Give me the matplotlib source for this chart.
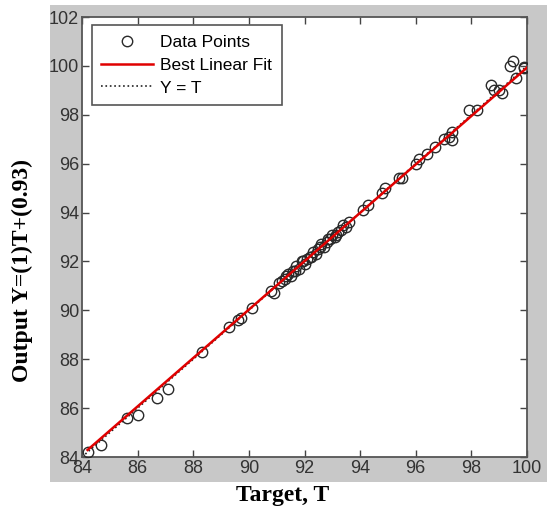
import matplotlib.pyplot as plt
from matplotlib.patches import Rectangle

# ---- data ----
target = [84.2, 84.7, 85.6, 86.0, 86.7, 87.1, 88.3, 89.3, 89.6, 89.7, 90.1,
          90.8, 90.9, 91.1, 91.2, 91.3, 91.4, 91.5, 91.6, 91.7, 91.8, 91.9,
          92.0, 92.1, 92.2, 92.3, 92.4, 92.5, 92.6, 92.7, 92.8, 92.9, 93.0,
          93.1, 93.2, 93.3, 93.5, 93.6, 91.35, 91.65, 91.95, 92.25, 92.55,
          92.85, 93.15, 93.4,
          94.1, 94.3, 94.8, 94.9, 95.4, 95.5,
          96.0, 96.1, 96.4, 96.7, 97.0, 97.2, 97.3, 97.3, 97.9, 98.2, 98.7,
          98.8, 99.0, 99.1, 99.4, 99.5, 99.6, 99.9, 99.9]
output = [84.2, 84.5, 85.6, 85.7, 86.4, 86.8, 88.3, 89.3, 89.6, 89.7, 90.1,
          90.8, 90.7, 91.1, 91.2, 91.3, 91.5, 91.4, 91.6, 91.8, 91.7, 92.0,
          91.9, 92.1, 92.2, 92.4, 92.3, 92.5, 92.7, 92.6, 92.8, 92.9, 93.1,
          93.0, 93.2, 93.3, 93.4, 93.6, 91.4, 91.6, 92.0, 92.2, 92.6,
          92.9, 93.1, 93.5,
          94.1, 94.3, 94.8, 95.0, 95.4, 95.4,
          96.0, 96.2, 96.4, 96.7, 97.0, 97.1, 97.3, 96.95, 98.2, 98.2, 99.2,
          99.0, 99.0, 98.9, 100.0, 100.2, 99.5, 99.95, 99.9]

fit_slope = 0.99
fit_intercept = 0.93
fit_range = [84.2, 100.0]
ident_range = [84, 102]

xticks = list(range(84, 101, 2))
yticks = list(range(84, 103, 2))

plt.rcParams['font.family'] = ['Liberation Sans', 'DejaVu Sans']

fig = plt.figure(figsize=(5.47, 5.15), dpi=100)
fig.patch.set_facecolor('white')
# matlab style grey figure panel, kept behind the axes
fig.patches.append(Rectangle((50 / 547, 1 - 482 / 515), 1 - 50 / 547, (482 - 5) / 515,
                             transform=fig.transFigure, facecolor='#c8c8c8',
                             edgecolor='none', zorder=-10))

ax = fig.add_axes([82 / 547, 1 - 457 / 515, 445 / 547, 440 / 515])
ax.set_zorder(5)
ax.set_facecolor('white')

fit_y = [fit_slope * t + fit_intercept for t in fit_range]

ax.plot(target, output, linestyle='none', marker='o', markersize=7.5,
        markerfacecolor='none', markeredgecolor='#2a2a2a', markeredgewidth=1.0,
        label='Data Points', zorder=3)
ax.plot(fit_range, fit_y, color='#e00000', linewidth=1.8,
        label='Best Linear Fit', zorder=4)
ax.plot(ident_range, ident_range, color='#222222', linestyle=':', linewidth=1.2,
        label='Y = T', zorder=2)

ax.set_xlim(84, 100)
ax.set_ylim(84, 102)
ax.set_xticks(xticks)
ax.set_yticks(yticks)
ax.tick_params(direction='in', length=5, width=1, top=True, right=True,
               labelsize=13, labelcolor='#333333', color='#444444', pad=2)
ax.tick_params(axis='x', labeltop=False)
for s in ax.spines.values():
    s.set_color('#555555')
    s.set_linewidth(1.3)

leg = ax.legend(loc='upper left', bbox_to_anchor=(0.022, 0.982), fontsize=12.5,
                handlelength=3.0, handletextpad=0.4, borderpad=0.55,
                borderaxespad=0, labelspacing=0.45, fancybox=False,
                framealpha=1, edgecolor='#555555')
leg.get_frame().set_linewidth(1.2)

fig.text(22 / 547, 1 - 270 / 515, 'Output Y=(1)T+(0.93)', rotation=90,
         ha='center', va='center', fontsize=17, fontweight='bold',
         family='Liberation Serif')
fig.text(283 / 547, 1 - 495 / 515, 'Target, T', ha='center', va='center',
         fontsize=17, fontweight='bold', family='Liberation Serif')

fig.savefig('out.png', dpi=100)
